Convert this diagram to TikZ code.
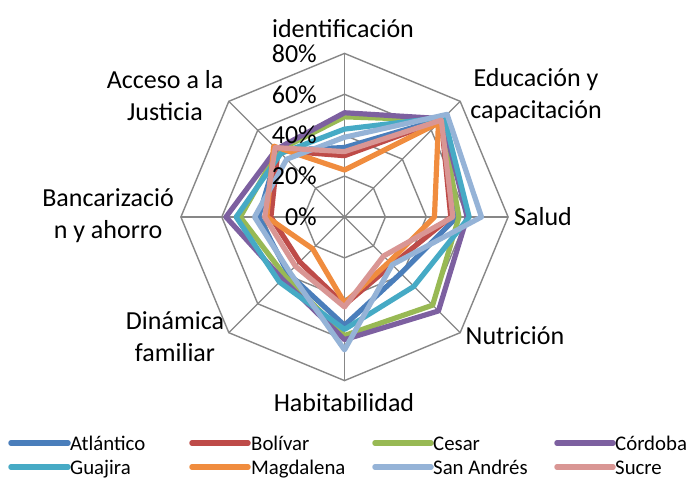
\documentclass[tikz,border=0pt]{standalone}
\usepackage{fontspec}
\setmainfont{Carlito}
\definecolor{gridgray}{HTML}{878787}
\definecolor{cAtl}{HTML}{4A7EBB}
\definecolor{cBol}{HTML}{BE4B48}
\definecolor{cCes}{HTML}{98B954}
\definecolor{cCor}{HTML}{7D60A0}
\definecolor{cGua}{HTML}{46AAC5}
\definecolor{cMag}{HTML}{F08C3E}
\definecolor{cSan}{HTML}{95B3D7}
\definecolor{cSuc}{HTML}{D99694}
\newcommand\radarseries[9]{%
  \draw[serie,#1] (90:{#2*2.044}) -- (45:{#3*2.044}) -- (0:{#4*2.044}) -- (-45:{#5*2.044}) -- (-90:{#6*2.044}) -- (-135:{#7*2.044}) -- (180:{#8*2.044}) -- (135:{#9*2.044}) -- cycle;}
\tikzset{
  gridline/.style={draw=gridgray,line width=1.4pt},
  serie/.style={line width=5.2pt,line join=round},
  axislabel/.style={inner sep=0pt,align=center,font=\fontsize{26}{32}\selectfont},
  ticklabel/.style={inner sep=0pt,anchor=east,font=\fontsize{26}{32}\selectfont},
  legline/.style={line width=5.5pt,line cap=round},
  legtext/.style={inner sep=0pt,anchor=base west,font=\fontsize{20.8}{24}\selectfont}
}
\begin{document}
\begin{tikzpicture}[x=1pt,y=1pt]
\useasboundingbox[fill=white] (0,0) rectangle (689,480);
\begin{scope}[shift={(344.5,263)}]
  \foreach \r in {1,2,3,4}{
    \draw[gridline] (90:{\r*40.9}) -- (45:{\r*40.9}) -- (0:{\r*40.9}) -- (-45:{\r*40.9}) -- (-90:{\r*40.9}) -- (-135:{\r*40.9}) -- (180:{\r*40.9}) -- (135:{\r*40.9}) -- cycle;
  }
  \foreach \a in {90,45,0,-45,-90,-135,180,135}{
    \draw[gridline] (0,0) -- (\a:163.6);
  }
  \radarseries{cAtl}{34}{68}{55}{39}{53}{39}{42}{46}
  \radarseries{cBol}{30}{67}{52}{33}{43}{31}{36}{46}
  \radarseries{cCes}{49}{67}{56}{61}{58}{41}{51}{46}
  \radarseries{cCor}{51}{68}{60}{65}{60}{43}{58}{47}
  \radarseries{cGua}{43}{69}{61}{48}{55}{45}{53}{44}
  \radarseries{cMag}{23}{65}{44}{31}{42}{22}{38}{49}
  \radarseries{cSan}{39}{71}{67}{33}{65}{38}{44}{40}
  \radarseries{cSuc}{32}{67}{53}{27}{44}{34}{39}{48}
\end{scope}
% tick labels
\node[ticklabel] (t0) at (317,263) {0\%};
\node[ticklabel] (t20) at (317,303.9) {20\%};
\node[ticklabel] (t40) at (317,344.8) {40\%};
\node[ticklabel] (t60) at (317,385.7) {60\%};
\node[ticklabel] (t80) at (317,426.6) {80\%};
% axis labels
\node[axislabel] (lid) at (343,451) {identificación};
\node[axislabel] (led) at (536,384) {Educación y\\capacitación};
\node[axislabel,anchor=west] (lsa) at (514,263) {Salud};
\node[axislabel] (lnu) at (515,144) {Nutrición};
\node[axislabel] (lha) at (344,77) {Habitabilidad};
\node[axislabel] (ldi) at (175,143) {Dinámica\\familiar};
\node[axislabel] (lba) at (108,264) {Bancarizació\\n y ahorro};
\node[axislabel] (lac) at (165,384) {Acceso a la\\Justicia};
% legend
\draw[legline,cAtl] (11,37) -- (68,37);
\node[legtext] (gAtl) at (70,30) {Atlántico};
\draw[legline,cBol] (192,37) -- (248,37);
\node[legtext] (gBol) at (251,30) {Bolívar};
\draw[legline,cCes] (375,37) -- (431,37);
\node[legtext] (gCes) at (433,30) {Cesar};
\draw[legline,cCor] (557,37) -- (613,37);
\node[legtext] (gCor) at (615,30) {Córdoba};
\draw[legline,cGua] (11,13) -- (68,13);
\node[legtext] (gGua) at (70,6) {Guajira};
\draw[legline,cMag] (192,13) -- (248,13);
\node[legtext] (gMag) at (251,6) {Magdalena};
\draw[legline,cSan] (375,13) -- (431,13);
\node[legtext] (gSan) at (433,6) {San Andrés};
\draw[legline,cSuc] (557,13) -- (613,13);
\node[legtext] (gSuc) at (615,6) {Sucre};
\end{tikzpicture}
\end{document}
